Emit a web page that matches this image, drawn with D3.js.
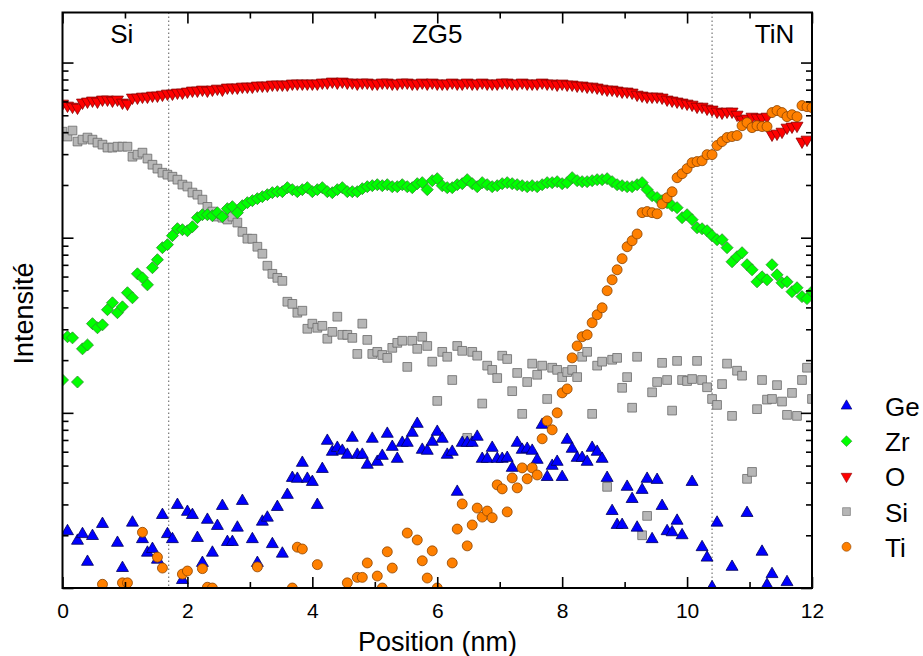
<!DOCTYPE html>
<html><head><meta charset="utf-8">
<script src="https://cdn.jsdelivr.net/npm/d3@7"></script>
<style>body{margin:0;background:#fff}svg text{font-family:"Liberation Sans",Arial,sans-serif}</style>
</head><body><svg id="c" width="923" height="656"></svg>
<script>
// Sampling positions (nm)
const positions = [
0,0.08,0.16,0.24,0.32,0.40,0.48,0.56,0.64,0.72,
0.80,0.88,0.96,1.04,1.12,1.20,1.28,1.36,1.44,1.52,
1.60,1.68,1.76,1.84,1.92,2.00,2.08,2.16,2.24,2.32,
2.40,2.48,2.56,2.64,2.72,2.80,2.88,2.96,3.04,3.12,
3.20,3.28,3.36,3.44,3.52,3.60,3.68,3.76,3.84,3.92,
4.00,4.08,4.16,4.24,4.32,4.40,4.48,4.56,4.64,4.72,
4.80,4.88,4.96,5.04,5.12,5.20,5.28,5.36,5.44,5.52,
5.60,5.68,5.76,5.84,5.92,6.00,6.08,6.16,6.24,6.32,
6.40,6.48,6.56,6.64,6.72,6.80,6.88,6.96,7.04,7.12,
7.20,7.28,7.36,7.44,7.52,7.60,7.68,7.76,7.84,7.92,
8.00,8.08,8.16,8.24,8.32,8.40,8.48,8.56,8.64,8.72,
8.80,8.88,8.96,9.04,9.12,9.20,9.28,9.36,9.44,9.52,
9.60,9.68,9.76,9.84,9.92,10.00,10.08,10.16,10.24,10.32,
10.40,10.48,10.56,10.64,10.72,10.80,10.88,10.96,11.04,11.12,
11.20,11.28,11.36,11.44,11.52,11.60,11.68,11.76,11.84,11.92,
12.00];

const geValues = [
null,2.11,null,1.86,2.03,1.41,1.98,null,2.32,null,
null,1.81,1.30,null,2.36,null,1.90,1.59,1.67,1.45,
2.61,2.03,1.90,2.98,1.11,2.72,2.61,1.93,1.39,2.45,
1.59,2.26,2.94,1.83,1.83,2.21,3.14,null,1.90,1.39,
2.39,2.52,1.78,2.90,1.57,3.40,4.25,4.20,5.18,4.20,
4.03,2.98,4.78,6.92,5.99,6.31,6.07,5.76,7.20,5.76,
5.76,5.05,7.11,5.25,5.68,7.59,6.39,5.46,6.74,6.74,
7.69,8.65,6.15,6.07,6.83,7.79,7.11,5.76,5.99,3.54,
6.74,6.74,6.74,7.30,5.46,5.46,6.31,5.46,5.46,5.53,
4.85,6.74,6.15,6.23,6.07,5.39,8.54,4.30,4.98,5.25,
4.30,7.01,6.23,5.53,5.53,5.25,6.31,5.99,5.46,4.25,
2.75,2.29,2.29,3.78,3.22,2.21,3.63,4.20,1.90,4.14,
2.94,2.11,2.08,2.42,2.00,null,4.03,null,1.71,1.49,
1.01,2.36,null,null,1.32,null,null,2.68,null,null,
1.61,1.04,1.20,null,null,1.08,null,null,null,null,
null];

const zrValues = [
15.4,27.2,26.8,15.0,23.2,24.4,32.3,30.6,31.8,38.8,
42.5,37.3,40.3,48.5,45.4,62.2,59.0,53.8,67.4,74.9,
87.7,91.2,102.7,112.6,111.1,109.6,115.5,130.1,135.3,135.3,
133.5,138.9,131.8,146.5,150.4,138.9,152.4,158.5,162.7,167.1,
171.5,176.1,180.8,183.2,183.2,193.1,188.1,183.2,188.1,193.1,
183.2,188.1,193.1,183.2,180.8,188.1,193.1,183.2,183.2,183.2,
190.5,195.6,198.2,200.8,198.2,200.8,195.6,195.6,200.8,195.6,
193.1,203.5,206.2,188.1,211.7,217.3,198.2,193.1,193.1,200.8,
203.5,214.5,203.5,195.6,206.2,200.8,195.6,198.2,203.5,206.2,
203.5,200.8,198.2,195.6,198.2,195.6,200.8,206.2,206.2,208.9,
203.5,206.2,220.2,211.7,208.9,208.9,211.7,214.5,214.5,217.3,
208.9,200.8,198.2,195.6,195.6,200.8,206.2,188.1,173.8,169.3,
162.7,158.5,152.4,148.4,130.1,135.3,126.7,114.0,112.5,109.6,
102.7,97.4,97.4,87.7,72.9,77.9,82.1,70.1,65.6,56.0,
59.8,57.5,70.1,61.4,55.3,56.0,49.2,51.8,46.1,44.9,
49.2];

const oValues = [
583,568,560,553,591,599,607,599,615,615,
607,615,591,583,631,631,639,639,648,648,
656,665,665,674,674,683,692,692,701,692,
701,710,701,720,720,720,729,729,729,739,
739,739,749,749,749,749,759,759,759,759,
759,759,769,769,779,769,779,769,769,759,
769,769,759,759,769,769,759,759,769,769,
759,759,769,759,769,759,759,759,769,759,
759,769,759,759,769,759,759,759,769,769,
759,759,769,759,759,759,769,759,759,749,
759,749,749,739,739,729,729,720,710,701,
701,692,683,683,674,656,648,639,639,639,
631,615,607,599,591,583,575,560,560,546,
539,525,518,525,525,504,472,479,491,485,
485,491,388,393,403,425,431,436,354,363,
null];

const siValues = [
403,378,409,354,363,373,363,349,340,327,
327,331,331,331,290,298,306,283,261,248,
235,229,223,214.5,201,196,181,176,165,150,
141,132,130,127,132,122,108,98.7,98.7,88.8,
81.0,69.2,62.2,59.0,56.7,43.1,41.9,37.3,38.3,30.2,
32.3,30.6,31.4,26.5,29.0,35.4,27.9,27.9,26.8,21.7,
32.3,26.1,21.7,22.3,21.4,20.6,23.5,25.1,25.8,18.3,
25.8,23.2,27.2,24.1,19.6,11.7,22.3,20.9,15.4,24.1,
22.6,7.2,22.3,21.2,11.3,18.6,17.6,15.8,21.2,20.3,
13.3,16.9,9.87,15.0,19.1,16.5,18.6,12.0,18.1,17.6,
16.0,17.1,17.6,16.0,20.9,22.3,9.87,18.6,19.6,3.78,
20.1,20.6,13.9,16.0,10.7,20.9,2.00,2.58,13.1,15.0,
19.3,15.4,10.3,19.8,15.4,15.2,15.6,19.8,15.4,14.0,
12.0,11.1,14.6,19.1,9.61,17.4,16.3,4.20,4.60,10.5,
15.4,11.9,12.0,14.4,11.6,9.74,13.0,9.61,15.4,18.1,
12.0];

const tiValues = [
null,null,null,null,null,null,null,null,1.05,null,
null,null,1.07,1.07,null,null,2.08,null,null,1.50,
1.30,null,null,null,1.20,1.25,null,null,1.29,1.01,
1.00,null,null,null,null,null,null,null,null,1.32,
null,null,null,null,null,null,1.00,1.71,1.67,null,
null,1.36,null,null,null,null,null,1.07,null,1.15,
1.15,1.39,null,1.17,1.00,1.61,1.30,null,null,2.06,
null,1.88,1.43,1.14,1.63,1.00,null,null,1.39,2.17,
3.02,1.74,2.29,2.86,2.54,2.75,2.52,3.88,3.68,2.72,
4.25,3.73,4.85,4.20,4.85,4.42,7.11,9.00,8.00,10.0,
13.0,13.7,20.6,24.1,27.2,27.9,32.7,36.3,39.8,49.8,
57.5,65.6,75.9,88.8,96.1,105,139,141,139,137,
156,169,183,220,232,248,268,272,275,298,
298,336,354,373,378,383,436,454,425,436,
431,431,518,532,518,491,504,491,568,560,
553];

const legendNames = ["Ge","Zr","O","Si","Ti"];
const xTickValues = [0,1,2,3,4,5,6,7,8,9,10,11,12];
const xLabelValues = [0,2,4,6,8,10,12];
const yMajorValues = [1,10,100,1000];
const interfaces = [1.7, 10.4];
const layerNames = ["Si","ZG5","TiN"];
const layerCentres = [0.95, 6.0, 11.4];
const xTitle = "Position (nm)";
const yTitle = "Intensité";

// ---------- drawing ----------
const svg = d3.select("#c");
const L = 62.5, R = 812, T = 12.5, B = 588;
const x = d3.scaleLinear().domain([0,12]).range([L,R]);
const y = d3.scaleLog().domain([1,1931]).range([B,T]);

const styles = {
  Ge:{fill:"#0000ff",stroke:"#00005a",sym:d3.symbolTriangle,size:62,rot:0},
  Zr:{fill:"#00ff00",stroke:"#2f8f2f",sym:d3.symbolSquare,size:72,rot:45},
  O: {fill:"#ff0000",stroke:"#8a0000",sym:d3.symbolTriangle,size:62,rot:180},
  Si:{fill:"#b6b6b6",stroke:"#6a6a6a",sym:d3.symbolSquare,size:76,rot:0},
  Ti:{fill:"#ff8000",stroke:"#8a4200",sym:d3.symbolCircle,size:78,rot:0}
};
const seriesValues = {Ge:geValues, Zr:zrValues, O:oValues, Si:siValues, Ti:tiValues};

svg.append("defs").append("clipPath").attr("id","plotclip")
  .append("rect").attr("x",L).attr("y",T).attr("width",R-L).attr("height",B-T);

// interface dotted lines
svg.append("g").selectAll("line").data(interfaces).join("line")
  .attr("x1",d=>x(d)).attr("x2",d=>x(d)).attr("y1",T).attr("y2",B)
  .attr("stroke","#777").attr("stroke-width",1.2).attr("stroke-dasharray","1.5,2.5");

const plot = svg.append("g").attr("clip-path","url(#plotclip)");
const drawOrder = ["Si","Ge","Zr","O","Ti"];
drawOrder.forEach(name=>{
  const st = styles[name];
  const pts = positions.map((p,i)=>({p, v:seriesValues[name][i]})).filter(d=>d.v!=null);
  const sym = d3.symbol().type(st.sym).size(st.size);
  plot.append("g").selectAll("path").data(pts).join("path")
    .attr("d",sym)
    .attr("transform",d=>`translate(${x(d.p)},${y(d.v)}) rotate(${st.rot})`)
    .attr("fill",st.fill).attr("stroke",st.stroke).attr("stroke-width",0.8);
});

// axes
function styleAxis(g){
  g.select(".domain").remove();
  g.selectAll(".tick line").attr("stroke","#000").attr("stroke-width",1.6);
  g.attr("font-family",null).attr("font-size",null);
  g.selectAll("text").attr("font-size",21).attr("fill","#000");
}
const xMinor = xTickValues.filter(v=>!xLabelValues.includes(v));
svg.append("g").attr("transform",`translate(0,${B})`)
  .call(d3.axisBottom(x).tickValues(xMinor).tickSize(-6).tickFormat("")).call(styleAxis);
svg.append("g").attr("transform",`translate(0,${B})`)
  .call(d3.axisBottom(x).tickValues(xLabelValues).tickSize(-11).tickPadding(15).tickFormat(d3.format("d"))).call(styleAxis);
svg.append("g").attr("transform",`translate(0,${T})`)
  .call(d3.axisTop(x).tickValues(xMinor).tickSize(-6).tickFormat("")).call(styleAxis);
svg.append("g").attr("transform",`translate(0,${T})`)
  .call(d3.axisTop(x).tickValues(xLabelValues).tickSize(-11).tickFormat("")).call(styleAxis);

const yMinor = y.ticks().filter(v=>!yMajorValues.includes(v));
[[L,d3.axisLeft],[R,d3.axisRight]].forEach(([pos,ax])=>{
  svg.append("g").attr("transform",`translate(${pos},0)`)
    .call(ax(y).tickValues(yMinor).tickSize(-6).tickFormat("")).call(styleAxis);
  svg.append("g").attr("transform",`translate(${pos},0)`)
    .call(ax(y).tickValues(yMajorValues).tickSize(-11).tickFormat("")).call(styleAxis);
});

// frame
svg.append("rect").attr("x",L).attr("y",T).attr("width",R-L).attr("height",B-T)
  .attr("fill","none").attr("stroke","#000").attr("stroke-width",2);

// layer labels
svg.append("g").selectAll("text").data(layerNames).join("text")
  .attr("x",(d,i)=>x(layerCentres[i])).attr("y",43)
  .attr("text-anchor","middle").attr("font-size",26).attr("fill","#000").text(d=>d);

// axis titles
svg.append("text").attr("x",437.5).attr("y",651).attr("text-anchor","middle")
  .attr("font-size",27).attr("fill","#000").text(xTitle);
svg.append("text").attr("transform","translate(33,313.5) rotate(-90)").attr("text-anchor","middle")
  .attr("font-size",27).attr("fill","#000").text(yTitle);

// legend
const lg = svg.append("g");
legendNames.forEach((name,i)=>{
  const st = styles[name];
  const cy = 406 + i*35.2;
  lg.append("path").attr("d",d3.symbol().type(st.sym).size(st.size*0.8)())
    .attr("transform",`translate(846.5,${cy}) rotate(${st.rot})`)
    .attr("fill",st.fill).attr("stroke",st.stroke).attr("stroke-width",0.6);
  lg.append("text").attr("x",885).attr("y",cy+10).attr("font-size",26).attr("fill","#000").text(name);
});
</script></body></html>
